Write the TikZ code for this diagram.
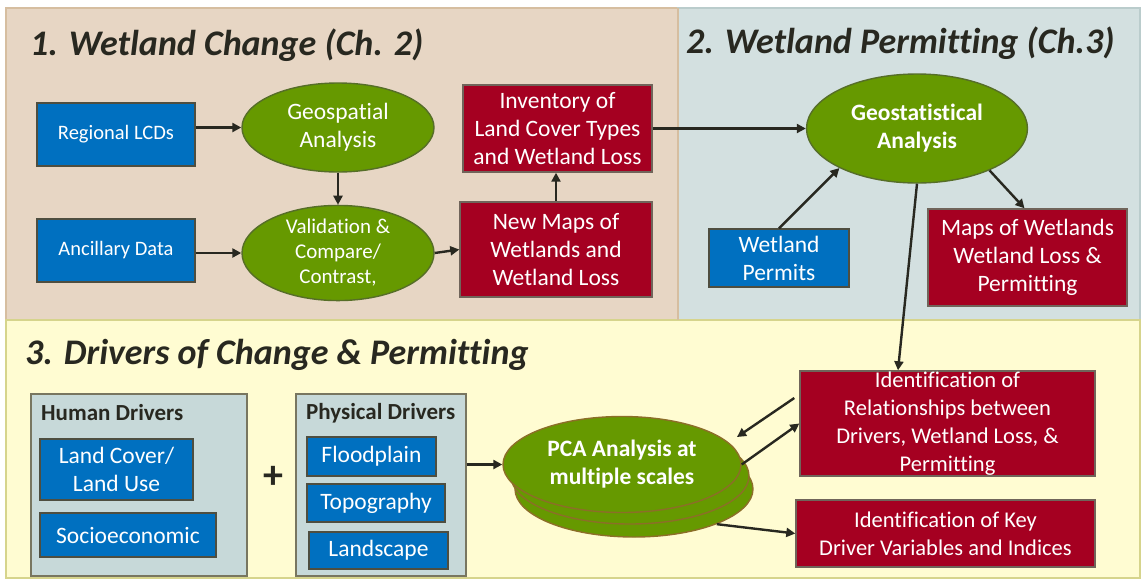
\documentclass[tikz,border=0pt]{standalone}
\usepackage{fontspec}
\setmainfont{Carlito}[Ligatures=NoCommon]
\usetikzlibrary{shapes.geometric,arrows.meta,calc}

\definecolor{tanfill}{RGB}{231,214,196}
\definecolor{tanedge}{RGB}{214,190,160}
\definecolor{greyfill}{RGB}{211,224,224}
\definecolor{greyedge}{RGB}{186,204,204}
\definecolor{creamfill}{RGB}{255,252,210}
\definecolor{creamedge}{RGB}{214,212,140}
\definecolor{drvfill}{RGB}{199,217,217}
\definecolor{drvedge}{RGB}{120,118,96}
\definecolor{boxblue}{RGB}{0,112,192}
\definecolor{blueedge}{RGB}{78,78,64}
\definecolor{boxred}{RGB}{165,0,33}
\definecolor{rededge}{RGB}{112,100,90}
\definecolor{ellgreen}{RGB}{102,153,0}
\definecolor{greenedge}{RGB}{86,110,40}
\definecolor{pcaedge}{RGB}{140,110,40}
\definecolor{inkdark}{RGB}{40,40,32}

\tikzset{
  panel/.style={line width=1.2pt},
  bluebox/.style={draw=blueedge, fill=boxblue, line width=1.4pt, text=white,
    align=center, inner sep=0pt, font=\fontsize{23.5}{28}\selectfont},
  redbox/.style={draw=rededge, fill=boxred, line width=1.4pt, text=white,
    align=center, inner sep=0pt, font=\fontsize{23.5}{28}\selectfont},
  greenell/.style={ellipse, draw=greenedge, fill=ellgreen, line width=1.4pt, text=white,
    align=center, inner sep=0pt, font=\fontsize{23.5}{28}\selectfont},
  pcaell/.style={ellipse, draw=pcaedge, fill=ellgreen, line width=1.4pt, text=white,
    align=center, inner sep=0pt, minimum width=238pt, minimum height=96pt},
  drvpanel/.style={draw=drvedge, fill=drvfill, line width=1.4pt, inner sep=0pt},
  paneltitle/.style={anchor=west, inner sep=0pt, text=inkdark,
    font=\fontsize{36}{40}\selectfont\bfseries\itshape},
  drvtitle/.style={anchor=west, inner sep=0pt, text=inkdark,
    font=\fontsize{23}{26}\selectfont\bfseries},
  flow/.style={draw=inkdark, line width=2.4pt, -{Triangle[length=9pt,width=9pt]}},
}

\begin{document}
\begin{tikzpicture}[x=1pt,y=-1pt]
\useasboundingbox (0,0) rectangle (1144,582);
\fill[white] (0,0) rectangle (1144,582);

% background panels
\draw[panel, draw=tanedge, fill=tanfill] (6,8) rectangle (678,320);
\draw[panel, draw=greyedge, fill=greyfill] (678,8) rectangle (1140,320);
\draw[panel, draw=creamedge, fill=creamfill] (6,320) rectangle (1140,578);
\draw[panel, draw=tanedge] (678,8) -- (678,320);

% panel titles
\node[paneltitle] (t1) at (30,45) {1. Wetland Change (Ch. 2)};
\node[paneltitle] (t2) at (686,43) {2. Wetland Permitting (Ch.3)};
\node[paneltitle] (t3) at (25,355) {3. Drivers of Change \& Permitting};

% section 1: wetland change
\node[bluebox, minimum width=158pt, minimum height=63pt, font=\fontsize{20.5}{24}\selectfont]
  (lcd) at (116,134.5) {Regional LCDs};
\node[bluebox, minimum width=158pt, minimum height=63pt, font=\fontsize{20.5}{24}\selectfont]
  (anc) at (116,250.5) {Ancillary Data};
\node[greenell, minimum width=192pt, minimum height=89pt] (geo) at (338,127.5)
  {Geospatial\\Analysis};
\node[greenell, minimum width=192pt, minimum height=88pt, font=\fontsize{21}{25}\selectfont]
  (val) at (338,253) {Validation \&\\Compare/\\Contrast,};
\node[redbox, minimum width=189pt, minimum height=87pt] (inv) at (557.5,128.5)
  {Inventory of\\Land Cover Types\\and Wetland Loss};
\node[redbox, minimum width=192pt, minimum height=95pt] (newmaps) at (556,249.5)
  {New Maps of\\Wetlands and\\Wetland Loss};

% section 2: permitting
\node[greenell, minimum width=221pt, minimum height=109pt, font=\fontsize{23.5}{28}\selectfont\bfseries]
  (gst) at (917,128.5) {Geostatistical\\Analysis};
\node[bluebox, minimum width=140pt, minimum height=58pt] (permits) at (779,258)
  {Wetland\\Permits};
\node[redbox, minimum width=199pt, minimum height=97pt] (mapsw) at (1027.5,257.5)
  {Maps of Wetlands\\Wetland Loss \&\\Permitting};

% section 3: drivers
\node[drvpanel, minimum width=216pt, minimum height=182pt] (human) at (139,485) {};
\node[drvtitle] (humant) at (41,413) {Human Drivers};
\node[bluebox, minimum width=153pt, minimum height=61pt] (landcover) at (116.5,469.5)
  {Land Cover/\\Land Use};
\node[bluebox, minimum width=176pt, minimum height=44pt] (socio) at (128,535)
  {Socioeconomic};

\node[inner sep=0pt, text=inkdark, font=\fontsize{40}{40}\selectfont\bfseries] (plus) at (273,477) {+};

\node[drvpanel, minimum width=170pt, minimum height=182pt] (phys) at (381,485) {};
\node[drvtitle] (physt) at (306,413) {Physical Drivers};
\node[bluebox, minimum width=129pt, minimum height=39pt] (flood) at (371.5,456.5) {Floodplain};
\node[bluebox, minimum width=138pt, minimum height=38pt] (topo) at (376,503) {Topography};
\node[bluebox, minimum width=139pt, minimum height=37pt] (land) at (378.5,550.5) {Landscape};

% stacked PCA ellipses
\node[pcaell] (pca3) at (634,489) {};
\node[pcaell] (pca2) at (630,476) {};
\node[pcaell, font=\fontsize{23.5}{28}\selectfont\bfseries] (pca1) at (622,464.5)
  {PCA Analysis at\\multiple scales};

\node[redbox, minimum width=295pt, minimum height=105pt, font=\fontsize{22.5}{28}\selectfont]
  (rel) at (947.5,423.5)
  {Identification of\\Relationships between\\Drivers, Wetland Loss, \&\\Permitting};
\node[redbox, minimum width=299pt, minimum height=67pt, font=\fontsize{22.5}{28}\selectfont]
  (key) at (945.5,533.5)
  {Identification of Key\\Driver Variables and Indices};

% connectors
\draw[flow] (lcd.east |- geo.west) -- (geo.west);
\draw[flow] (anc.east |- val.west) -- (val.west);
\draw[flow] (geo.south) -- (val.north);
\draw[flow] (val.east) -- (newmaps.west);
\draw[flow] (newmaps.north) -- (newmaps.north |- inv.south);
\draw[flow] (inv.east) -- (gst.west);
\draw[flow] (permits.north) -- (gst.207);
\draw[flow] (gst.330) -- ([xshift=-3pt]mapsw.north);
\draw[flow] (gst.south) -- ([xshift=-49.5pt]rel.north);
\draw[flow] (pca1.west -| phys.east) -- (pca1.west);
\draw[flow] ([xshift=-5pt,yshift=25.5pt]rel.west) -- ([xshift=115pt,yshift=27.5pt]pca1.center);
\draw[flow] (pca1.east) -- (rel.west);
\draw[flow] (pca3.-23) -- (key.west);
\end{tikzpicture}
\end{document}
